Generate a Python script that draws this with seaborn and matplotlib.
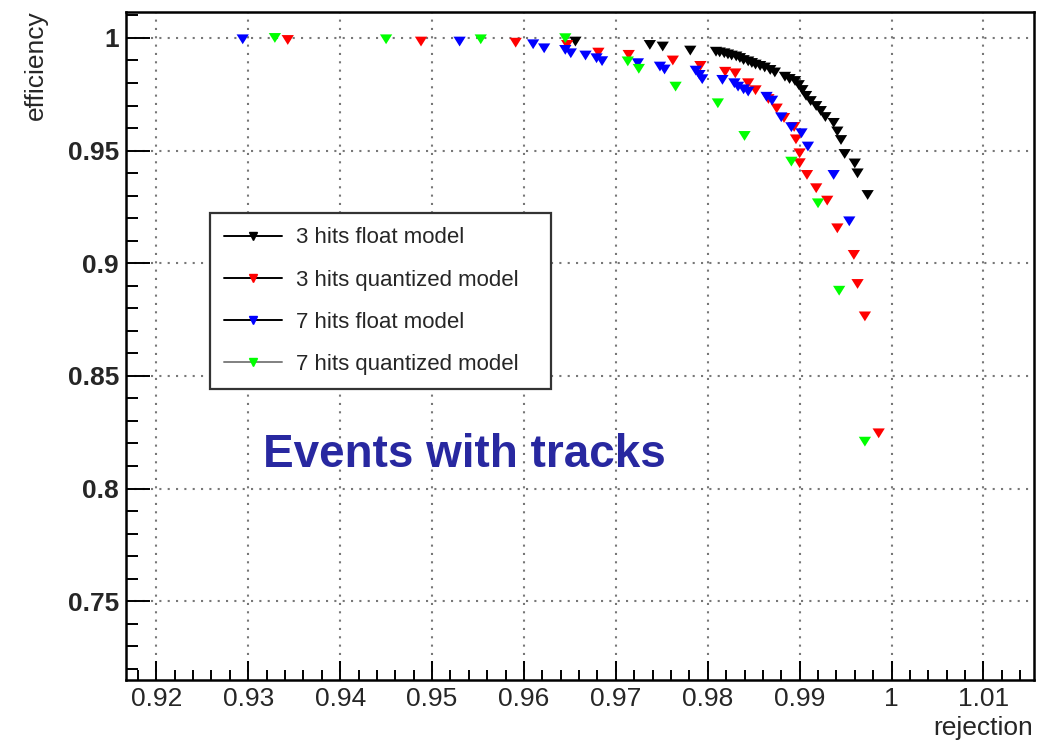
import numpy as np
import pandas as pd
import matplotlib
matplotlib.use("Agg")
import matplotlib.pyplot as plt
from matplotlib.lines import Line2D
from matplotlib.ticker import MultipleLocator, FuncFormatter
import seaborn as sns

# ---- data -------------------------------------------------------------
series_names = ["3 hits float model", "3 hits quantized model",
                "7 hits float model", "7 hits quantized model"]
series_colors = ["#000000", "#ff0000", "#0000ff", "#00ff00"]
legend_line_colors = ["#000000", "#000000", "#000000", "#808080"]

rej_3f = [0.9656, 0.9737, 0.9751, 0.9781, 0.9809, 0.9813, 0.9818, 0.9822,
          0.9826, 0.9831, 0.9835, 0.9839, 0.9844, 0.9848, 0.9852, 0.9857,
          0.9862, 0.9868, 0.9873, 0.9884, 0.9889, 0.9895, 0.9899, 0.9903,
          0.9907, 0.9912, 0.9918, 0.9923, 0.9928, 0.9937, 0.9941, 0.9945,
          0.9949, 0.9960, 0.9963, 0.9974]
eff_3f = [0.9984, 0.9969, 0.9962, 0.9944, 0.9939, 0.9936, 0.9932, 0.9927,
          0.9922, 0.9918, 0.9911, 0.9902, 0.9896, 0.9889, 0.9882, 0.9876,
          0.9869, 0.9858, 0.9847, 0.9828, 0.9818, 0.9809, 0.9791, 0.9769,
          0.9743, 0.9720, 0.9698, 0.9676, 0.9649, 0.9623, 0.9585, 0.9547,
          0.9485, 0.9443, 0.9399, 0.9303]

rej_3q = [0.9343, 0.9488, 0.9591, 0.9647, 0.9681, 0.9714, 0.9762, 0.9792,
          0.9819, 0.9830, 0.9844, 0.9852, 0.9866, 0.9875, 0.9883, 0.9894,
          0.9896, 0.9900, 0.9900, 0.9908, 0.9918, 0.9930, 0.9941, 0.9959,
          0.9963, 0.9971, 0.9986]
eff_3q = [0.9991, 0.9984, 0.9979, 0.9969, 0.9935, 0.9925, 0.9900, 0.9876,
          0.9850, 0.9843, 0.9799, 0.9768, 0.9729, 0.9687, 0.9645, 0.9605,
          0.9550, 0.9488, 0.9444, 0.9392, 0.9333, 0.9278, 0.9155, 0.9037,
          0.8908, 0.8764, 0.8245]

rej_7f = [0.9294, 0.9530, 0.9610, 0.9622, 0.9645, 0.9651, 0.9667, 0.9679,
          0.9685, 0.9724, 0.9748, 0.9753, 0.9787, 0.9791, 0.9794, 0.9816,
          0.9829, 0.9833, 0.9839, 0.9844, 0.9864, 0.9870, 0.9880, 0.9891,
          0.9902, 0.9909, 0.9937, 0.9954]
eff_7f = [0.9994, 0.9984, 0.9972, 0.9954, 0.9947, 0.9932, 0.9922, 0.9910,
          0.9897, 0.9888, 0.9873, 0.9860, 0.9855, 0.9836, 0.9817, 0.9814,
          0.9799, 0.9784, 0.9772, 0.9762, 0.9739, 0.9722, 0.9648, 0.9604,
          0.9577, 0.9518, 0.9392, 0.9186]

rej_7q = [0.9329, 0.9450, 0.9553, 0.9645, 0.9713, 0.9725, 0.9765, 0.9811,
          0.9840, 0.9891, 0.9920, 0.9943, 0.9971]
eff_7q = [1.0000, 0.9994, 0.9994, 0.9999, 0.9896, 0.9863, 0.9784, 0.9710,
          0.9565, 0.9451, 0.9266, 0.8878, 0.8208]

x_ticks = [0.92, 0.93, 0.94, 0.95, 0.96, 0.97, 0.98, 0.99, 1.00, 1.01]
y_ticks = [0.75, 0.80, 0.85, 0.90, 0.95, 1.00]

frames = []
for name, xs, ys in zip(series_names,
                        [rej_3f, rej_3q, rej_7f, rej_7q],
                        [eff_3f, eff_3q, eff_7f, eff_7q]):
    frames.append(pd.DataFrame({"rejection": xs, "efficiency": ys, "model": name}))
df = pd.concat(frames, ignore_index=True)

# ---- style ------------------------------------------------------------
sns.set_style("ticks")
plt.rcParams["font.family"] = ["Liberation Sans", "DejaVu Sans"]

fig = plt.figure(figsize=(10.39, 7.40), dpi=100)
ax = fig.add_axes([126 / 1039, 60 / 740, 908 / 1039, 668.4 / 740])

# downward triangle, slightly flattened
tri_down = [(-1.0, 0.8), (1.0, 0.8), (0.0, -0.8), (-1.0, 0.8)]

sns.scatterplot(data=df, x="rejection", y="efficiency", hue="model",
                hue_order=series_names, palette=series_colors,
                marker=tri_down, s=78, linewidth=0, legend=False, ax=ax,
                zorder=3)

ax.set_xlim(0.9167, 1.0155)
ax.set_ylim(0.7150, 1.0117)

ax.set_xticks(x_ticks)
ax.set_yticks(y_ticks)
ax.xaxis.set_minor_locator(MultipleLocator(0.002))
ax.yaxis.set_minor_locator(MultipleLocator(0.01))
fmt = FuncFormatter(lambda v, _: f"{round(v, 4):g}")
ax.xaxis.set_major_formatter(fmt)
ax.yaxis.set_major_formatter(fmt)

ax.tick_params(axis="both", which="both", direction="in", top=False,
               right=False, width=1.4, color="black")
ax.tick_params(axis="x", which="major", length=14, pad=5, labelsize=19)
ax.tick_params(axis="x", which="minor", length=7)
ax.tick_params(axis="y", which="major", length=17, pad=5, labelsize=19)
ax.tick_params(axis="y", which="minor", length=8.5)
for lab in ax.get_yticklabels():
    lab.set_fontweight("bold")

ax.grid(True, which="major", color="#777777", linestyle=(0, (1, 3)),
        linewidth=1.5, zorder=0)
for sp in ax.spines.values():
    sp.set_linewidth(1.8)
    sp.set_color("black")
    sp.set_visible(True)

ax.set_xlabel("")
ax.set_ylabel("")
fig.text(36 / 1039, 1 - 10 / 740, "efficiency", rotation=90,
         ha="center", va="top", fontsize=19)
fig.text(1033 / 1039, 1 - 728 / 740, "rejection", ha="right",
         va="center", fontsize=19)

# legend
handles = [Line2D([], [], color=lc, linewidth=1.4, marker="v",
                  markersize=6, markerfacecolor=c, markeredgecolor=c)
           for c, lc in zip(series_colors, legend_line_colors)]
leg = ax.legend(handles, series_names, loc="upper left",
                bbox_to_anchor=(210 / 1039, 1 - 388 / 740, 341 / 1039, 175 / 740),
                bbox_transform=fig.transFigure, mode="expand",
                borderaxespad=0, fontsize=16, handlelength=2.6,
                handletextpad=0.6, labelspacing=0.95, borderpad=0.65,
                fancybox=False, framealpha=1, edgecolor="#333333")
leg.get_frame().set_linewidth(1.6)

ax.text(263 / 1039, 1 - 455 / 740, "Events with tracks",
        transform=fig.transFigure, ha="left", va="center",
        fontsize=33, fontweight="bold", color="#2828a0")

fig.savefig("out.png", dpi=100)
